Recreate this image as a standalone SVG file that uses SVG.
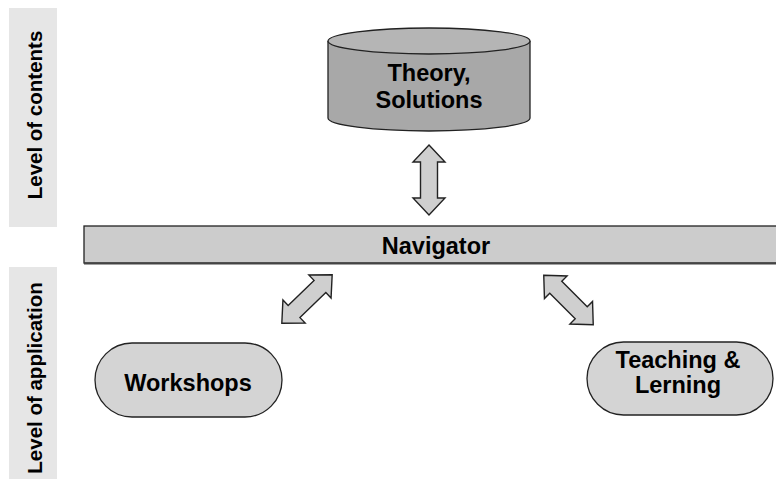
<svg xmlns="http://www.w3.org/2000/svg" width="776" height="479" viewBox="0 0 776 479">
<defs>
<style>
text{font-family:"Liberation Sans",Arial,sans-serif;font-weight:bold;fill:#000;text-anchor:middle}
.lbl{fill:#e6e6e6}
.big{font-size:23.5px}
.side{font-size:20.5px}
.pill{fill:#d4d4d4;stroke:#222;stroke-width:1.3}
.arrow{fill:#cfcfcf;stroke:#222;stroke-width:1.4;stroke-linejoin:miter}
</style>
<polygon id="dbl" points="-35,0 -18,-16 -18,-8.5 18,-8.5 18,-16 35,0 18,16 18,8.5 -18,8.5 -18,16"/>
</defs>
<rect width="776" height="479" fill="#fff"/>
<g id="label-contents">
<rect class="lbl" x="9" y="8" width="48" height="219"/>
<text class="side" transform="translate(42,115) rotate(-90)">Level of contents</text>
</g>
<g id="label-application">
<rect class="lbl" x="9" y="267" width="48" height="212"/>
<text class="side" transform="translate(42,378) rotate(-90)">Level of application</text>
</g>
<g id="theory">
<path d="M328,41 L328,118 A101,13 0 0 0 530,118 L530,41" fill="#a8a8a8" stroke="#222" stroke-width="1.3"/>
<ellipse cx="429" cy="41" rx="101" ry="13" fill="#b5b5b5" stroke="#222" stroke-width="1.3"/>
<text class="big" x="429" y="81">Theory,</text>
<text class="big" x="429" y="108">Solutions</text>
</g>
<g id="navigator">
<rect x="84" y="226" width="700" height="37" fill="#cccccc" stroke="#222" stroke-width="1.3"/>
<line x1="84" y1="263.5" x2="776" y2="263.5" stroke="#444" stroke-width="2"/>
<text class="big" x="436" y="254">Navigator</text>
</g>
<g id="workshops">
<rect class="pill" x="95" y="343" width="187" height="74" rx="37"/>
<text class="big" x="188" y="391">Workshops</text>
</g>
<g id="teaching">
<rect class="pill" x="587" y="342" width="186" height="73" rx="36.5"/>
<text class="big" x="678" y="368">Teaching &amp;</text>
<text class="big" x="678" y="393">Lerning</text>
</g>
<g id="connectors">
<use href="#dbl" class="arrow" transform="translate(429,180) rotate(90)"/>
<use href="#dbl" class="arrow" transform="translate(307,299) rotate(-44)"/>
<use href="#dbl" class="arrow" transform="translate(568.5,300) rotate(45)"/>
</g>
</svg>
